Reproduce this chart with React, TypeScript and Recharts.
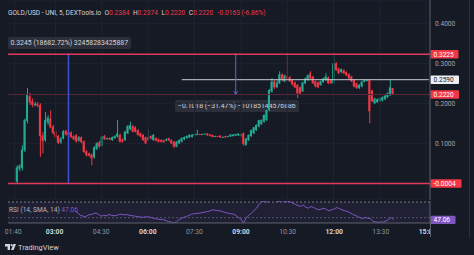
import React from 'react';
import {
  ComposedChart,
  Bar,
  Line,
  XAxis,
  YAxis,
  CartesianGrid,
  ReferenceLine,
  ReferenceArea,
  ReferenceDot,
} from 'recharts';

const FONT = 'Roboto, "Liberation Sans", Arial, sans-serif';
const BG = '#161a25';
const UP = '#22ab94';
const DOWN = '#f23645';
const AXIS_TEXT = '#a3a6af';
const LINE_RED = '#e0395c';

// GOLD/USD on UNI, 5 minute candles, first one at 01:45
const opens = [
  0.004, 0.036, 0.038, 0.082, 0.156, 0.218, 0.205, 0.196, 0.199, 0.196, 0.12, 0.108, 0.152, 0.162, 0.142, 0.128,
  0.118, 0.102, 0.112, 0.131, 0.122, 0.127, 0.118, 0.12, 0.107, 0.115, 0.105, 0.08, 0.075, 0.072, 0.065, 0.086,
  0.102, 0.094, 0.118, 0.111, 0.113, 0.108, 0.113, 0.117, 0.121, 0.11, 0.108, 0.125, 0.135, 0.143, 0.14, 0.133,
  0.125, 0.121, 0.115, 0.108, 0.118, 0.108, 0.113, 0.11, 0.108, 0.108, 0.107, 0.113, 0.108, 0.104, 0.092, 0.1,
  0.104, 0.11, 0.113, 0.115, 0.116, 0.119, 0.122, 0.123, 0.122, 0.123, 0.124, 0.122, 0.121, 0.117, 0.118, 0.119,
  0.116, 0.118, 0.117, 0.117, 0.118, 0.119, 0.12, 0.118, 0.125, 0.096, 0.108, 0.118, 0.125, 0.133, 0.142, 0.148,
  0.154, 0.158, 0.183, 0.229, 0.255, 0.24, 0.25, 0.272, 0.255, 0.268, 0.265, 0.258, 0.252, 0.246, 0.24, 0.23,
  0.25, 0.258, 0.275, 0.267, 0.255, 0.252, 0.246, 0.253, 0.258, 0.265, 0.258, 0.25, 0.3, 0.287, 0.278, 0.283,
  0.278, 0.273, 0.267, 0.258, 0.25, 0.238, 0.242, 0.254, 0.256, 0.258, 0.232, 0.2, 0.203, 0.205, 0.207, 0.21,
  0.215, 0.22, 0.2384,
];
const highs = [
  0.045, 0.048, 0.095, 0.162, 0.238, 0.226, 0.212, 0.204, 0.203, 0.2, 0.128, 0.178, 0.17, 0.182, 0.146, 0.132,
  0.121, 0.116, 0.133, 0.134, 0.129, 0.13, 0.12, 0.123, 0.118, 0.117, 0.107, 0.083, 0.077, 0.074, 0.093, 0.103,
  0.106, 0.119, 0.121, 0.114, 0.115, 0.117, 0.12, 0.158, 0.124, 0.112, 0.131, 0.146, 0.154, 0.146, 0.143, 0.135,
  0.127, 0.123, 0.117, 0.135, 0.12, 0.123, 0.115, 0.112, 0.11, 0.109, 0.112, 0.114, 0.11, 0.106, 0.106, 0.11,
  0.115, 0.117, 0.12, 0.123, 0.123, 0.125, 0.134, 0.124, 0.124, 0.125, 0.126, 0.123, 0.122, 0.119, 0.119, 0.12,
  0.117, 0.119, 0.119, 0.123, 0.123, 0.124, 0.125, 0.124, 0.127, 0.113, 0.122, 0.134, 0.141, 0.147, 0.159, 0.16,
  0.172, 0.184, 0.236, 0.263, 0.258, 0.258, 0.28, 0.275, 0.272, 0.325, 0.268, 0.26, 0.254, 0.248, 0.242, 0.254,
  0.264, 0.272, 0.28, 0.269, 0.257, 0.254, 0.257, 0.264, 0.275, 0.267, 0.26, 0.325, 0.303, 0.289, 0.287, 0.285,
  0.28, 0.275, 0.269, 0.26, 0.252, 0.248, 0.256, 0.26, 0.259, 0.259, 0.234, 0.214, 0.212, 0.215, 0.217, 0.221,
  0.227, 0.258, 0.2384,
];
const lows = [
  0.0, 0.03, 0.032, 0.078, 0.15, 0.196, 0.19, 0.192, 0.19, 0.066, 0.075, 0.104, 0.146, 0.138, 0.122, 0.112,
  0.098, 0.099, 0.11, 0.119, 0.12, 0.113, 0.108, 0.102, 0.104, 0.1, 0.076, 0.067, 0.067, 0.045, 0.062, 0.083,
  0.089, 0.092, 0.108, 0.109, 0.108, 0.106, 0.111, 0.114, 0.102, 0.102, 0.106, 0.123, 0.133, 0.127, 0.127, 0.119,
  0.115, 0.106, 0.098, 0.106, 0.11, 0.106, 0.105, 0.102, 0.102, 0.101, 0.105, 0.105, 0.098, 0.088, 0.09, 0.098,
  0.102, 0.108, 0.111, 0.113, 0.114, 0.117, 0.121, 0.121, 0.121, 0.122, 0.119, 0.117, 0.115, 0.116, 0.116, 0.114,
  0.115, 0.114, 0.116, 0.116, 0.117, 0.118, 0.119, 0.117, 0.094, 0.094, 0.106, 0.116, 0.123, 0.131, 0.14, 0.146,
  0.152, 0.156, 0.181, 0.227, 0.236, 0.238, 0.248, 0.255, 0.253, 0.258, 0.253, 0.245, 0.238, 0.213, 0.223, 0.228,
  0.248, 0.256, 0.26, 0.248, 0.24, 0.238, 0.244, 0.251, 0.256, 0.248, 0.248, 0.248, 0.281, 0.273, 0.276, 0.273,
  0.268, 0.26, 0.253, 0.24, 0.236, 0.236, 0.24, 0.252, 0.255, 0.15, 0.203, 0.198, 0.201, 0.203, 0.205, 0.208,
  0.213, 0.218, 0.222,
];
const closes = [
  0.04, 0.044, 0.084, 0.158, 0.222, 0.202, 0.196, 0.199, 0.194, 0.118, 0.106, 0.158, 0.164, 0.14, 0.126, 0.115,
  0.101, 0.112, 0.13, 0.122, 0.127, 0.116, 0.11, 0.105, 0.115, 0.103, 0.078, 0.07, 0.069, 0.062, 0.09, 0.1,
  0.092, 0.117, 0.11, 0.113, 0.11, 0.115, 0.118, 0.125, 0.104, 0.104, 0.129, 0.143, 0.145, 0.129, 0.129, 0.121,
  0.117, 0.108, 0.1, 0.115, 0.112, 0.121, 0.107, 0.104, 0.104, 0.103, 0.11, 0.107, 0.1, 0.092, 0.104, 0.108,
  0.113, 0.115, 0.118, 0.121, 0.121, 0.123, 0.123, 0.122, 0.123, 0.124, 0.12, 0.119, 0.116, 0.118, 0.117, 0.115,
  0.116, 0.115, 0.118, 0.122, 0.122, 0.123, 0.124, 0.123, 0.098, 0.112, 0.121, 0.133, 0.14, 0.146, 0.158, 0.158,
  0.171, 0.183, 0.233, 0.254, 0.24, 0.252, 0.272, 0.258, 0.27, 0.262, 0.255, 0.247, 0.24, 0.225, 0.225, 0.252,
  0.262, 0.27, 0.262, 0.25, 0.242, 0.24, 0.255, 0.262, 0.267, 0.25, 0.25, 0.3, 0.283, 0.275, 0.285, 0.275,
  0.27, 0.262, 0.255, 0.242, 0.238, 0.246, 0.254, 0.258, 0.258, 0.18, 0.205, 0.212, 0.21, 0.213, 0.215, 0.219,
  0.225, 0.24, 0.222,
];
// RSI(14), the first candles have no value shown
const rsiValues: (number | null)[] = [
  null, null, null, null, null, null, null, null, null, null, null, null, null, null, null, null,
  null, null, null, null, null, null, null, 58, 56, 53, 52, 51, 53.5, 54, 55, 56,
  54, 52, 53, 52.5, 54, 53, 52.5, 53, 54, 54.5, 53.5, 54, 53, 52.5, 52, 51.5,
  51, 50.4, 51, 51.2, 50.5, 49.5, 48.7, 48.2, 47.5, 47.5, 46.5, 45, 44.5, 43.3, 44.5, 47.5,
  49, 50.5, 51.7, 53, 54.6, 55, 55.5, 55.8, 56.5, 57, 57.9, 58.5, 60, 59.5, 59, 58.7,
  57.5, 56.5, 55.8, 55, 54.6, 53, 50.4, 48, 43.3, 49.6, 53, 55.8, 59, 62.1, 67, 70.4,
  71, 69.6, 72, 75, 74, 70.4, 71, 72, 69.6, 71, 70.4, 68.5, 67, 65.5, 64.2, 66.3,
  63.5, 62.1, 64.2, 63, 61.5, 60, 61, 62.1, 60.5, 58.7, 60, 61.2, 62.9, 61.5, 60, 59,
  57.9, 56.5, 54.6, 53, 51.7, 50, 48.7, 50.4, 49.5, 48.7, 45.4, 44.5, 44.1, 44.3, 44.6, 45.8,
  47.5, 50.4, 47.06,
];

const timeTicks = ['01:40', '03:00', '04:30', '06:00', '07:30', '09:00', '10:30', '12:00', '13:30', '15:00'];
const boldTicks = ['03:00', '06:00', '09:00', '12:00', '15:00'];
const priceTicks = [0, 0.05, 0.1, 0.15, 0.2, 0.25, 0.3, 0.35, 0.4];

const START_MIN = 90; // 01:30 is the first slot of the time scale
const FIRST_CANDLE = 3;
const SLOTS = 164;

const hhmm = (m: number) =>
  `${String(Math.floor(m / 60)).padStart(2, '0')}:${String(m % 60).padStart(2, '0')}`;

const rows = Array.from({ length: SLOTS }, (_, k) => {
  const i = k - FIRST_CANDLE;
  const has = i >= 0 && i < opens.length;
  return {
    time: hhmm(START_MIN + 5 * k),
    o: has ? opens[i] : null,
    h: has ? highs[i] : null,
    l: has ? lows[i] : null,
    c: has ? closes[i] : null,
    rsi: has ? rsiValues[i] : null,
  };
});

const wickRange = (d: any) => (d.o == null ? null : [d.l, d.h]);
const bodyRange = (d: any) => (d.o == null ? null : [Math.min(d.o, d.c), Math.max(d.o, d.c)]);

const Wick = (p: any) => {
  const d = p.payload;
  if (!d || d.o == null || p.y == null) return <g />;
  const top = Math.min(p.y, p.y + p.height);
  return (
    <rect x={p.x + (p.width - 1) / 2} y={top} width={1} height={Math.max(1, Math.abs(p.height))} fill={d.c >= d.o ? UP : DOWN} />
  );
};

const Body = (p: any) => {
  const d = p.payload;
  if (!d || d.o == null || p.y == null) return <g />;
  const top = Math.min(p.y, p.y + p.height);
  return <rect x={p.x} y={top} width={p.width} height={Math.max(1, Math.abs(p.height))} fill={d.c >= d.o ? UP : DOWN} />;
};

const Badge = ({ viewBox, text, bg, fg, w }: any) => {
  if (!viewBox) return <g />;
  const x = viewBox.x + viewBox.width + 0.5;
  const y = viewBox.y;
  return (
    <g>
      <rect x={x} y={y - 4.3} width={w} height={8.6} rx={1} fill={bg} />
      <text x={x + 3} y={y + 2.4} fill={fg} fontSize={6.6} fontFamily={FONT}>
        {text}
      </text>
    </g>
  );
};

const PriceTick = (p: any) => {
  const v = p.payload.value;
  if (v === 0 || v === 0.25) return <g />;
  return (
    <text x={435} y={p.y + 2.3} fill={AXIS_TEXT} fontSize={6.6} fontFamily={FONT}>
      {v === 0.05 ? '0.05000' : v.toFixed(4)}
    </text>
  );
};

const TimeTick = (p: any) => {
  const v = p.payload.value;
  const bold = boldTicks.includes(v);
  return (
    <text
      x={p.x}
      y={p.y + 8.9}
      textAnchor="middle"
      fontSize={6.8}
      fontWeight={bold ? 700 : 400}
      fill={bold ? '#d1d4dc' : '#8f929b'}
      fontFamily={FONT}
    >
      {v}
    </text>
  );
};

const Arrow = (p: any) => (
  <path d={`M${p.cx - 2},${p.cy - 3} L${p.cx},${p.cy} L${p.cx + 2},${p.cy - 3}`} stroke="#5b6bd6" fill="none" />
);

const ohlc = [
  { key: 'O', value: '0.2384' },
  { key: 'H', value: '0.2374' },
  { key: 'L', value: '0.2220' },
  { key: 'C', value: '0.2220' },
];

const labelBox: React.CSSProperties = {
  position: 'absolute',
  background: '#2c2f3a',
  color: '#d1d4dc',
  fontSize: 6.9,
  lineHeight: '12px',
  padding: '0 3px',
  borderRadius: 2,
  whiteSpace: 'nowrap',
};

export default function App() {
  return (
    <div
      style={{
        position: 'absolute',
        left: 0,
        top: 0,
        width: 474,
        height: 255,
        background: BG,
        overflow: 'hidden',
        fontFamily: FONT,
      }}
    >
      {/* sits under the chart, candles cross it */}
      <div style={{ ...labelBox, left: 175, top: 99.5 }}>−0.1018 (−31.47%) −10185144576886</div>

      <div style={{ position: 'absolute', left: 0, top: 0 }}>
        <ComposedChart width={474} height={200} data={rows} margin={{ top: 0, right: 0, left: 8, bottom: 0 }}>
          <CartesianGrid xAxisId="wick" vertical={false} stroke="#1f2330" />
          <XAxis xAxisId="wick" dataKey="time" hide />
          <XAxis xAxisId="body" dataKey="time" hide />
          <YAxis
            orientation="right"
            width={44}
            domain={[-0.04175, 0.45825]}
            allowDataOverflow
            ticks={priceTicks}
            tick={PriceTick}
            tickLine={false}
            tickSize={0}
            axisLine={{ stroke: '#5d606b' }}
          />
          {timeTicks.map((t) => (
            <ReferenceLine key={t} xAxisId="wick" x={t} stroke="#1f2330" />
          ))}
          <ReferenceLine xAxisId="wick" y={0.222} stroke="#5a2536" strokeWidth={1} />
          <ReferenceLine
            xAxisId="wick"
            segment={[
              { x: '07:05', y: 0.259 },
              { x: '15:05', y: 0.259 },
            ]}
            stroke="#c8cad0"
            strokeWidth={1}
          />
          <ReferenceLine
            xAxisId="wick"
            segment={[
              { x: '03:25', y: -0.0004 },
              { x: '03:25', y: 0.3245 },
            ]}
            stroke="#3f51d6"
            strokeWidth={1.5}
          />
          <ReferenceLine
            xAxisId="wick"
            segment={[
              { x: '08:50', y: 0.3245 },
              { x: '08:50', y: 0.2227 },
            ]}
            stroke="#5b6bd6"
            strokeWidth={1}
          />
          <ReferenceDot xAxisId="wick" x="08:50" y={0.2227} shape={Arrow} />
          <Bar xAxisId="wick" dataKey={wickRange} barSize={1} shape={Wick} isAnimationActive={false} />
          <Bar xAxisId="body" dataKey={bodyRange} barSize={2} shape={Body} isAnimationActive={false} />
          <ReferenceLine
            xAxisId="wick"
            y={0.3225}
            stroke={LINE_RED}
            strokeWidth={1.5}
            label={(p: any) => <Badge {...p} text="0.3225" bg={DOWN} fg="#ffffff" w={28} />}
          />
          <ReferenceLine
            xAxisId="wick"
            y={-0.0004}
            stroke={LINE_RED}
            strokeWidth={1.5}
            label={(p: any) => <Badge {...p} text="-0.0004" bg={DOWN} fg="#ffffff" w={31} />}
          />
          <ReferenceLine
            xAxisId="wick"
            y={0.259}
            stroke="none"
            label={(p: any) => <Badge {...p} text="0.2590" bg="#eceef2" fg="#131722" w={28.5} />}
          />
          <ReferenceLine
            xAxisId="wick"
            y={0.222}
            stroke="none"
            label={(p: any) => <Badge {...p} text="0.2220" bg={DOWN} fg="#ffffff" w={28.5} />}
          />
        </ComposedChart>
      </div>

      <div style={{ position: 'absolute', left: 0, top: 199 }}>
        <ComposedChart width={474} height={40} data={rows} margin={{ top: 2, right: 0, left: 8, bottom: 0 }}>
          <XAxis
            dataKey="time"
            ticks={timeTicks}
            interval={0}
            tick={TimeTick}
            tickLine={false}
            tickSize={0}
            height={16}
            axisLine={{ stroke: '#5d606b' }}
          />
          <YAxis
            orientation="right"
            width={44}
            domain={[43.2, 71.3]}
            allowDataOverflow
            tick={false}
            tickLine={false}
            axisLine={{ stroke: '#5d606b' }}
          />
          <ReferenceArea y1={43.2} y2={70} fill="#7e57c2" fillOpacity={0.1} stroke="none" />
          {timeTicks.map((t) => (
            <ReferenceLine key={t} x={t} stroke="#1f2330" />
          ))}
          <ReferenceLine y={70} stroke="#787b86" strokeDasharray="2 2" />
          <ReferenceLine y={50} stroke="#787b86" strokeDasharray="2 2" strokeOpacity={0.6} />
          <Line
            dataKey="rsi"
            stroke="#7e57c2"
            strokeWidth={1}
            dot={false}
            connectNulls={false}
            isAnimationActive={false}
          />
          <ReferenceLine
            y={47.06}
            stroke="none"
            label={(p: any) => <Badge {...p} text="47.06" bg="#7e57c2" fg="#ffffff" w={25} />}
          />
        </ComposedChart>
      </div>

      {/* right price scale covers the end of the time scale */}
      <div style={{ position: 'absolute', left: 430.5, top: 224, width: 44, height: 14, background: BG }} />
      <div style={{ position: 'absolute', left: 430, top: 222, width: 1, height: 15, background: '#5d606b' }} />
      <div style={{ position: 'absolute', left: 469, top: 0, width: 1, height: 238, background: '#2a2e39' }} />

      <div
        style={{
          position: 'absolute',
          left: 8,
          top: 9,
          display: 'flex',
          fontSize: 6.6,
          lineHeight: '9px',
          whiteSpace: 'nowrap',
          color: '#d1d4dc',
        }}
      >
        <span style={{ marginRight: 3.5 }}>GOLD/USD - UNI, 5, DEXTools.io</span>
        {ohlc.map((g) => (
          <span key={g.key} style={{ marginRight: 3.5 }}>
            {g.key}
            <span style={{ color: DOWN }}>{g.value}</span>
          </span>
        ))}
        <span style={{ color: DOWN, marginLeft: 1 }}>-0.0163 (-6.86%)</span>
      </div>

      <div style={{ ...labelBox, left: 7.5, top: 37 }}>0.3245 (18682.72%) 32458283425887</div>

      <div
        style={{ position: 'absolute', left: 9, top: 205.5, fontSize: 6.6, color: '#b2b5be', whiteSpace: 'nowrap', lineHeight: '9px' }}
      >
        RSI (14, SMA, 14) <span style={{ color: '#7e57c2' }}>47.06</span>
      </div>

      <svg style={{ position: 'absolute', left: 0, top: 240 }} width={60} height={14}>
        <path d="M5 4 h5 v6 h-2.4 v-3.6 h-2.6z" fill="#d1d4dc" />
        <circle cx={11.6} cy={5.2} r={1.1} fill="#d1d4dc" />
        <path d="M13.4 4 h2.6 l-2.4 6 h-2.6z" fill="#d1d4dc" />
        <text x={18} y={9.6} fontSize={7.4} fill="#d1d4dc" fontFamily={FONT}>
          TradingView
        </text>
      </svg>
    </div>
  );
}
